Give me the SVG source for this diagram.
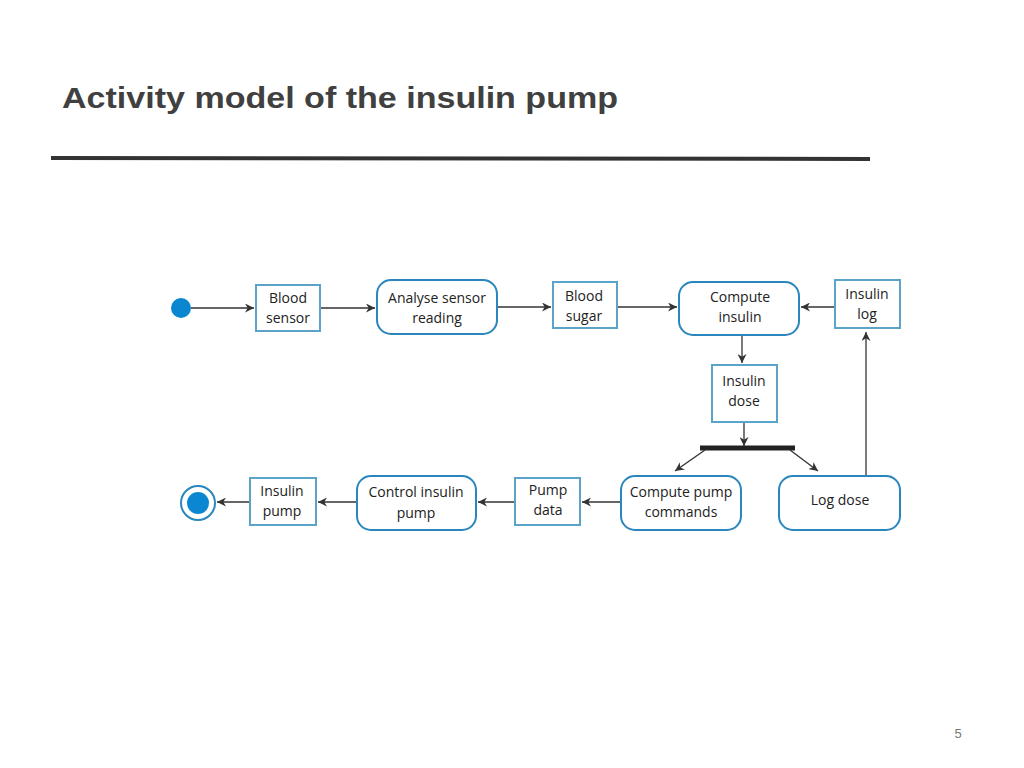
<svg xmlns="http://www.w3.org/2000/svg" width="1024" height="768" viewBox="0 0 1024 768">
<style>
.r{fill:#fff;stroke:#5ba3c9;stroke-width:2}
.a{fill:#fff;stroke:#2a86bd;stroke-width:2}
.t{font-family:"Open Sans","Liberation Sans",sans-serif;font-size:14px;fill:#222;text-anchor:middle}
.c{stroke:#333;stroke-width:1.3;fill:none;marker-end:url(#ah)}
</style>
<defs><marker id="ah" viewBox="0 0 10 10" refX="10" refY="5" markerWidth="9" markerHeight="9" orient="auto" markerUnits="userSpaceOnUse"><path d="M0,0L10,5L0,10L3,5z" fill="#333"/></marker></defs>
<rect width="1024" height="768" fill="#fff"/>
<text x="62" y="108" font-family="Liberation Sans,Arial,sans-serif" font-weight="bold" font-size="30" textLength="556" lengthAdjust="spacingAndGlyphs" fill="#404040">Activity model of the insulin pump</text>
<line x1="51" y1="158" x2="870" y2="159" stroke="#333" stroke-width="4"/>
<text x="958" y="738" font-family="Liberation Sans,sans-serif" font-size="13" fill="#777" text-anchor="middle">5</text>
<g id="connectors">
<path class="c" d="M191,308H254"/>
<path class="c" d="M320,308H375"/>
<path class="c" d="M497,307H551"/>
<path class="c" d="M617,307H677"/>
<path class="c" d="M835,307H801"/>
<path class="c" d="M742,335V363"/>
<path class="c" d="M744,422V446"/>
<path d="M700,448H795" stroke="#222" stroke-width="5"/>
<path class="c" d="M705,450L675,471"/>
<path class="c" d="M790,450L818,471"/>
<path class="c" d="M866,476V332"/>
<path class="c" d="M621,502H582"/>
<path class="c" d="M515,502H478"/>
<path class="c" d="M357,502H318"/>
<path class="c" d="M250,502H217"/>
</g>
<g id="start"><circle cx="181" cy="308" r="10" fill="#0a87d0"/></g>
<g id="bloodSensor"><rect class="r" x="256" y="285" width="64" height="46"/><text class="t" x="288" y="303">Blood</text><text class="t" x="288" y="323">sensor</text></g>
<g id="analyse"><rect class="a" x="377" y="280" width="120" height="54" rx="14"/><text class="t" x="437" y="303">Analyse sensor</text><text class="t" x="437" y="323">reading</text></g>
<g id="bloodSugar"><rect class="r" x="553" y="282" width="64" height="46"/><text class="t" x="584" y="301">Blood</text><text class="t" x="584" y="321">sugar</text></g>
<g id="computeInsulin"><rect class="a" x="679" y="282" width="120" height="53" rx="14"/><text class="t" x="740" y="302">Compute</text><text class="t" x="740" y="322">insulin</text></g>
<g id="insulinLog"><rect class="r" x="835" y="280" width="65" height="48"/><text class="t" x="867" y="299">Insulin</text><text class="t" x="867" y="319">log</text></g>
<g id="insulinDose"><rect class="r" x="712" y="365" width="65" height="57"/><text class="t" x="744" y="386">Insulin</text><text class="t" x="744" y="406">dose</text></g>
<g id="computePump"><rect class="a" x="621" y="476" width="120" height="54" rx="14"/><text class="t" x="681" y="497">Compute pump</text><text class="t" x="681" y="517">commands</text></g>
<g id="logDose"><rect class="a" x="779" y="476" width="121" height="54" rx="14"/><text class="t" x="840" y="505">Log dose</text></g>
<g id="pumpData"><rect class="r" x="515" y="478" width="65" height="47"/><text class="t" x="548" y="495">Pump</text><text class="t" x="548" y="515">data</text></g>
<g id="controlPump"><rect class="a" x="357" y="476" width="119" height="54" rx="14"/><text class="t" x="416" y="497">Control insulin</text><text class="t" x="416" y="518">pump</text></g>
<g id="insulinPump"><rect class="r" x="250" y="478" width="66" height="47"/><text class="t" x="282" y="496">Insulin</text><text class="t" x="282" y="516">pump</text></g>
<g id="end"><circle cx="198" cy="503" r="17" fill="#fff" stroke="#2a86bd" stroke-width="2"/><circle cx="198" cy="503" r="11" fill="#0a87d0"/></g>
</svg>
